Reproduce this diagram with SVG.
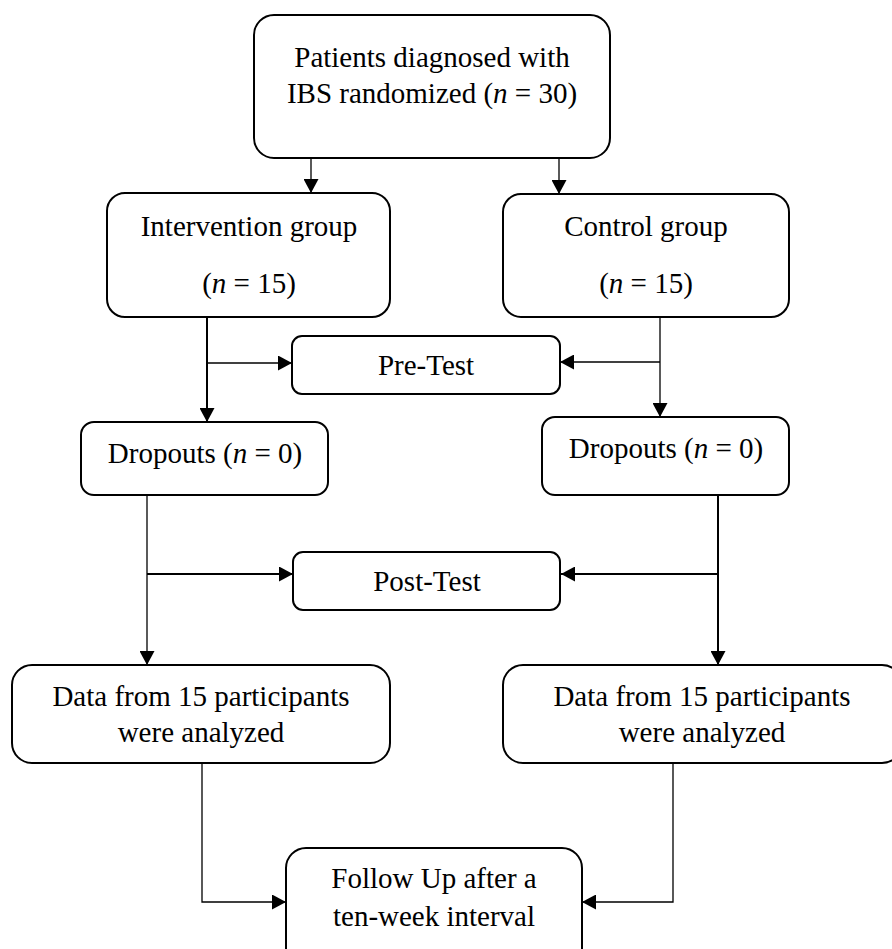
<svg xmlns="http://www.w3.org/2000/svg" width="892" height="949" viewBox="0 0 892 949">
<style>
.box{fill:#fff;stroke:#000;stroke-width:2}
.t{font-family:"Liberation Serif","Times New Roman",serif;font-size:29px;fill:#000;text-anchor:middle}
.i{font-style:italic}
.c{fill:none;stroke:#000;stroke-width:1.3}
.c2{fill:none;stroke:#000;stroke-width:2}
</style>
<defs>
<marker id="ah" viewBox="0 0 14 15" refX="14" refY="7.5" markerWidth="14" markerHeight="15" markerUnits="userSpaceOnUse" orient="auto">
<path d="M0,0 L14,7.5 L0,15 z" fill="#000"/>
</marker>
</defs>
<rect width="892" height="949" fill="#fff"/>
<g id="connectors">
<path class="c" d="M311,158 V193" marker-end="url(#ah)"/>
<path class="c" d="M559,158 V194" marker-end="url(#ah)"/>
<path class="c2" d="M207,317 V422" marker-end="url(#ah)"/>
<path class="c" d="M207,363 H292" marker-end="url(#ah)"/>
<path class="c" d="M660,317 V417" marker-end="url(#ah)"/>
<path class="c" d="M660,362 H560" marker-end="url(#ah)"/>
<path class="c" d="M147,495 V665" marker-end="url(#ah)"/>
<path class="c2" d="M147,574 H293" marker-end="url(#ah)"/>
<path class="c2" d="M718,495 V665" marker-end="url(#ah)"/>
<path class="c2" d="M718,574 H561" marker-end="url(#ah)"/>
<path class="c" d="M202,763 V902 H286" marker-end="url(#ah)"/>
<path class="c" d="M673,763 V902 H582" marker-end="url(#ah)"/>
</g>
<g id="randomized">
<rect class="box" x="254" y="15" width="356" height="143" rx="20"/>
<text class="t" x="432" y="67">Patients diagnosed with</text>
<text class="t" x="432" y="103">IBS randomized (<tspan class="i">n</tspan> = 30)</text>
</g>
<g id="intervention">
<rect class="box" x="107" y="193" width="283" height="124" rx="18"/>
<text class="t" x="249" y="236">Intervention group</text>
<text class="t" x="249" y="293">(<tspan class="i">n</tspan> = 15)</text>
</g>
<g id="control">
<rect class="box" x="503" y="194" width="286" height="123" rx="18"/>
<text class="t" x="646" y="236">Control group</text>
<text class="t" x="646" y="293">(<tspan class="i">n</tspan> = 15)</text>
</g>
<g id="pretest">
<rect class="box" x="292" y="336" width="268" height="58" rx="10"/>
<text class="t" x="426" y="375">Pre-Test</text>
</g>
<g id="dropouts-left">
<rect class="box" x="81" y="422" width="247" height="73" rx="13"/>
<text class="t" x="205" y="463">Dropouts (<tspan class="i">n</tspan> = 0)</text>
</g>
<g id="dropouts-right">
<rect class="box" x="542" y="417" width="247" height="78" rx="13"/>
<text class="t" x="666" y="458">Dropouts (<tspan class="i">n</tspan> = 0)</text>
</g>
<g id="posttest">
<rect class="box" x="293" y="552" width="267" height="58" rx="10"/>
<text class="t" x="427" y="591">Post-Test</text>
</g>
<g id="data-left">
<rect class="box" x="12" y="665" width="378" height="98" rx="20"/>
<text class="t" x="201" y="706">Data from 15 participants</text>
<text class="t" x="201" y="742">were analyzed</text>
</g>
<g id="data-right">
<rect class="box" x="503" y="665" width="399" height="98" rx="20"/>
<text class="t" x="702" y="706">Data from 15 participants</text>
<text class="t" x="702" y="742">were analyzed</text>
</g>
<g id="followup">
<rect class="box" x="286" y="848" width="296" height="125" rx="20"/>
<text class="t" x="434" y="888">Follow Up after a</text>
<text class="t" x="434" y="926">ten-week interval</text>
</g>
</svg>
